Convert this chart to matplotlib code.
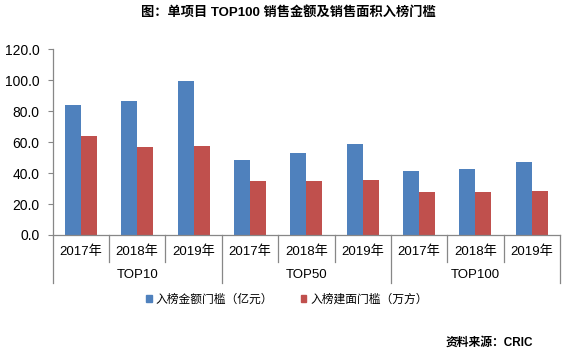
import numpy as np
import matplotlib.pyplot as plt
from matplotlib.patches import Rectangle

plt.rcParams['font.family'] = ['Liberation Sans', 'Noto Sans CJK SC', 'DejaVu Sans']

# Data
groups = ['TOP10', 'TOP50', 'TOP100']
years = ['2017年', '2018年', '2019年']
amount = [84.0, 86.6, 99.5, 48.4, 53.0, 58.8, 41.3, 42.6, 47.2]   # 亿元
area = [64.0, 56.8, 57.5, 34.9, 34.9, 35.5, 27.8, 27.8, 28.4]     # 万方
series_names = ['入榜金额门槛（亿元）', '入榜建面门槛（万方）']
title = '图：单项目 TOP100 销售金额及销售面积入榜门槛'
source = '资料来源：CRIC'

BLUE = '#4F81BD'
RED = '#C0504D'
GRAY = '#878787'

W, H = 566, 356
fig = plt.figure(figsize=(W / 100, H / 100), dpi=100)

# Axes placement in pixels
left, right, top, bottom = 52.7, 560.0, 49.3, 235.0
ax = fig.add_axes([left / W, 1 - bottom / H, (right - left) / W, (bottom - top) / H])
ax_h = bottom - top

n = len(amount)
x = np.arange(n)
bw = 0.284
ax.bar(x - bw / 2, amount, bw, color=BLUE, zorder=2)
ax.bar(x + bw / 2, area, bw, color=RED, zorder=2)

ax.set_xlim(-0.5, n - 0.5)
ax.set_ylim(0, 120)
ax.set_yticks(np.arange(0, 121, 20))
ax.set_yticklabels(['%.1f' % v for v in np.arange(0, 121, 20)], fontsize=10)
ax.tick_params(axis='y', length=3.5, width=0.8, color=GRAY, pad=6)
ax.set_xticks([])

for s in ['top', 'right']:
    ax.spines[s].set_visible(False)
for s in ['left', 'bottom']:
    ax.spines[s].set_color(GRAY)
    ax.spines[s].set_linewidth(0.9)

# Two-level category axis
trans = ax.get_xaxis_transform()
short = 27 / ax_h
long_ = 48 / ax_h
for b in np.arange(-0.5, n, 1.0):
    length = long_ if (b + 0.5) % 3 == 0 else short
    ax.plot([b, b], [0, -length], color=GRAY, lw=0.9, transform=trans, clip_on=False)

for i in range(n):
    ax.text(i, -17 / ax_h, years[i % 3], transform=trans, ha='center', va='center', fontsize=9.5)
for g, name in enumerate(groups):
    ax.text(3 * g + 1, -40 / ax_h, name, transform=trans, ha='center', va='center', fontsize=9.5)

# Legend
handles = [Rectangle((0, 0), 1, 1, color=BLUE), Rectangle((0, 0), 1, 1, color=RED)]
fig.legend(handles, series_names, loc='center', bbox_to_anchor=(287 / W, 1 - 300 / H),
           ncol=2, frameon=False, fontsize=8.5, handlelength=0.5, handleheight=0.5,
           handletextpad=0.3, columnspacing=2.3)

fig.text(288 / W, 1 - 12 / H, title, ha='center', va='center', fontsize=9.5, fontweight='bold')
fig.text(533 / W, 1 - 343 / H, source, ha='right', va='center', fontsize=8.5, fontweight='bold')

fig.savefig('out.png', dpi=100)
